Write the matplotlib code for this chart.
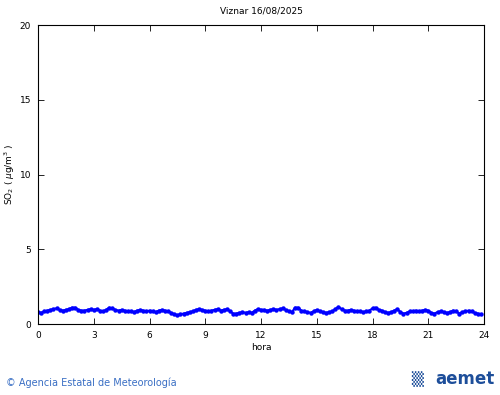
import numpy as np
import matplotlib
matplotlib.use("Agg")
import matplotlib.pyplot as plt

# Viznar SO2, 10-minute values (ug/m3), one row per hour
so2_rows = [
    [0.80, 0.75, 0.85, 0.90, 0.95, 1.00],
    [1.05, 0.95, 0.90, 0.95, 1.00, 1.10],
    [1.10, 0.95, 0.90, 0.90, 0.95, 1.00],
    [0.95, 1.00, 0.90, 0.85, 0.95, 1.10],
    [1.05, 0.95, 0.90, 0.95, 0.90, 0.85],
    [0.85, 0.80, 0.90, 0.95, 0.90, 0.85],
    [0.90, 0.85, 0.80, 0.90, 0.95, 0.90],
    [0.85, 0.75, 0.65, 0.60, 0.65, 0.70],
    [0.75, 0.80, 0.85, 0.95, 1.00, 0.95],
    [0.90, 0.85, 0.90, 0.95, 1.00, 0.90],
    [0.95, 1.00, 0.85, 0.70, 0.70, 0.75],
    [0.80, 0.75, 0.80, 0.75, 0.90, 1.00],
    [0.95, 0.95, 0.90, 0.95, 1.00, 0.95],
    [1.00, 1.05, 0.95, 0.85, 0.80, 1.10],
    [1.10, 0.90, 0.85, 0.80, 0.75, 0.85],
    [0.95, 0.85, 0.80, 0.75, 0.80, 0.85],
    [1.00, 1.15, 1.00, 0.90, 0.90, 0.95],
    [0.90, 0.85, 0.85, 0.80, 0.85, 0.90],
    [1.05, 1.10, 0.95, 0.90, 0.80, 0.75],
    [0.80, 0.90, 1.00, 0.80, 0.70, 0.75],
    [0.85, 0.85, 0.90, 0.85, 0.90, 0.95],
    [0.90, 0.75, 0.70, 0.80, 0.85, 0.80],
    [0.75, 0.80, 0.90, 0.85, 0.70, 0.80],
    [0.85, 0.90, 0.85, 0.75, 0.70, 0.65],
]
so2 = [v for row in so2_rows for v in row]
hours = [i / 6 for i in range(len(so2))]

x_ticks = [0, 3, 6, 9, 12, 15, 18, 21, 24]
y_ticks = [0, 5, 10, 15, 20]

fig = plt.figure(figsize=(5, 3.95), dpi=100)
ax = fig.add_axes([0.076, 0.1797, 0.892, 0.757])

ax.plot(hours, so2, color="#0000ff", linewidth=1.5, marker="o",
        markersize=3.2, markeredgewidth=0)

ax.set_xlim(0, 24)
ax.set_ylim(0, 20)
ax.set_xticks(x_ticks)
ax.set_yticks(y_ticks)
ax.tick_params(direction="in", length=4, width=0.6, labelsize=6.5,
               top=True, right=True, pad=5)
for s in ax.spines.values():
    s.set_linewidth(0.8)

ax.set_title("Viznar 16/08/2025", fontsize=6.5, pad=8)
ax.set_xlabel("hora", fontsize=6.5, labelpad=2)
ax.set_ylabel(r"SO$_2$ ( $\mu$g/m$^3$ )", fontsize=6.5)
ax.yaxis.set_label_coords(-0.048, 0.5)

# footer
fig.text(0.012, 0.03, "\u00a9 Agencia Estatal de Meteorología", fontsize=7,
         color="#3a6fc4", ha="left", va="center")
fig.text(0.99, 0.04, "aemet", fontsize=12, fontweight="bold",
         color="#1d4e9a", ha="right", va="center")
fig.text(0.835, 0.04, "\u2592", fontsize=11, color="#1d4e9a",
         ha="center", va="center")

fig.savefig("out.png", dpi=100)
